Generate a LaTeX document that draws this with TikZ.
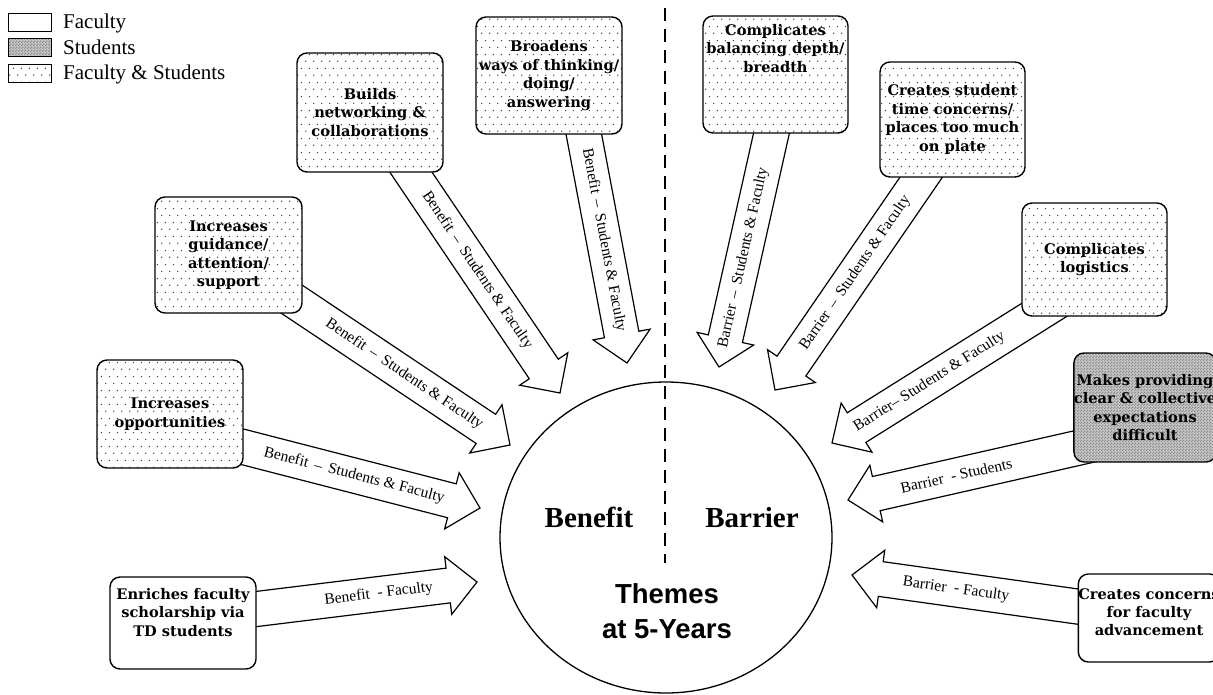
\documentclass[tikz,border=0pt]{standalone}
\usepackage{fontspec}
\setmainfont{Liberation Serif}
\newfontfamily\themefont{Liberation Sans}
\newfontfamily\boxserif{DejaVu Serif}
\usetikzlibrary{calc,patterns,shapes.geometric}

\pgfdeclarepatternformonly{fsdots}{\pgfqpoint{0pt}{0pt}}{\pgfqpoint{8pt}{14pt}}{\pgfqpoint{8pt}{14pt}}{%
  \pgfpathcircle{\pgfqpoint{2pt}{3pt}}{0.75pt}%
  \pgfpathcircle{\pgfqpoint{6pt}{10pt}}{0.75pt}%
  \pgfusepath{fill}}
\pgfdeclarepatternformonly{stuchk}{\pgfqpoint{0pt}{0pt}}{\pgfqpoint{3pt}{3pt}}{\pgfqpoint{3pt}{3pt}}{%
  \pgfpathrectangle{\pgfqpoint{0pt}{0pt}}{\pgfqpoint{1.5pt}{1.5pt}}%
  \pgfpathrectangle{\pgfqpoint{1.5pt}{1.5pt}}{\pgfqpoint{1.5pt}{1.5pt}}%
  \pgfusepath{fill}}

\newcommand\boxfont{\boxserif\bfseries\fontsize{14.6}{18.4}\selectfont}
\newcommand\arrowfont{\fontsize{15.5}{15.5}\selectfont}
\newcommand\legfont{\fontsize{21}{21}\selectfont}

% #1 tail coordinate, #2 tip coordinate, #3 label, #4 label distance back from head base, #5 extra text rotation
\newcommand\blockarrow[5]{%
  \coordinate (#1-hb) at ($(#2)!29pt!(#1)$);
  \draw[arrowline] ($(#1)!17.5pt!90:(#2)$) -- ($(#1-hb)!17.5pt!90:(#2)$) -- ($(#1-hb)!29pt!90:(#2)$) -- (#2)
     -- ($(#1-hb)!29pt!-90:(#2)$) -- ($(#1-hb)!17.5pt!-90:(#2)$) -- ($(#1)!17.5pt!-90:(#2)$) -- cycle;
  \path let \p1=($(#2)-(#1)$), \n1={atan2(\y1,\x1)+#5} in
     node[arrowlabel, rotate=\n1] (#1-lab) at ($(#1-hb)!#4pt!(#1)$) {#3};
}

\tikzset{
  themebox/.style={draw, line width=1.4pt, rounded corners=10pt, align=center, font=\boxfont, inner sep=0pt},
  fsbox/.style={themebox, preaction={fill=white}, pattern=fsdots, pattern color=black!85},
  facbox/.style={themebox, fill=white},
  stubox/.style={themebox, preaction={fill=black!22}, pattern=stuchk, pattern color=black!45},
  arrowline/.style={line width=1.2pt, fill=white, line join=miter},
  arrowlabel/.style={font=\arrowfont, inner sep=0pt},
  legbox/.style={draw, line width=1pt, minimum width=43pt, minimum height=18pt, inner sep=0pt},
  legtext/.style={font=\legfont, inner sep=0pt, anchor=base west},
  dashline/.style={line width=2.4pt, dash pattern=on 13pt off 8pt},
  bigserif/.style={font=\bfseries\fontsize{29}{29}\selectfont, inner sep=0pt, anchor=base},
}

\begin{document}
\begin{tikzpicture}[x=1pt,y=-1pt]
\useasboundingbox (0,0) rectangle (1213,694);

% legend
\node[legbox, fill=white] (lg1) at (29.5,22) {};
\node[legtext] (lg1t) at (63,28.5) {Faculty};
\node[legbox, preaction={fill=black!22}, pattern=stuchk, pattern color=black!45] (lg2) at (29.5,47.5) {};
\node[legtext] (lg2t) at (63,54) {Students};
\node[legbox, preaction={fill=white}, pattern=fsdots, pattern color=black!85] (lg3) at (29.5,73) {};
\node[legtext] (lg3t) at (63,79.5) {Faculty \& Students};

% arrow end points
\coordinate (a1t) at (580,114);  \coordinate (a1h) at (627,363);
\coordinate (a2t) at (400,156);  \coordinate (a2h) at (560,393);
\coordinate (a3t) at (278,290);  \coordinate (a3h) at (510,445);
\coordinate (a4t) at (220,441);  \coordinate (a4h) at (480,508);
\coordinate (a5t) at (236,611.5);\coordinate (a5h) at (477,582);
\coordinate (r1t) at (776,113);  \coordinate (r1h) at (719,367);
\coordinate (r2t) at (933,160);  \coordinate (r2h) at (775,390);
\coordinate (r3t) at (1060,300); \coordinate (r3h) at (832,443);
\coordinate (r4t) at (1095,444); \coordinate (r4h) at (848,500);
\coordinate (r5t) at (1095,609); \coordinate (r5h) at (852,575);

\blockarrow{a1t}{a1h}{Benefit \,--\, Students \& Faculty}{96}{0}
\blockarrow{a2t}{a2h}{Benefit \,--\, Students \& Faculty}{119}{0}
\blockarrow{a3t}{a3h}{Benefit \,--\, Students \& Faculty}{98}{0}
\blockarrow{a4t}{a4h}{Benefit \,--\, Students \& Faculty}{101}{0}
\blockarrow{a5t}{a5h}{Benefit\ \ - Faculty}{70}{0}
\blockarrow{r1t}{r1h}{Barrier \,--\, Students \& Faculty}{83}{180}
\blockarrow{r2t}{r2h}{Barrier \,--\, Students \& Faculty}{113}{180}
\blockarrow{r3t}{r3h}{Barrier-- Students \& Faculty}{86}{180}
\blockarrow{r4t}{r4h}{Barrier\ \ - Students}{82}{180}
\blockarrow{r5t}{r5h}{Barrier\ \ - Faculty}{76}{180}

% boxes
\node[fsbox, minimum width=146pt, minimum height=117pt] (b1) at (549,75.5) {Broadens\\ways of thinking/\\doing/\\answering};
\node[fsbox, minimum width=146pt, minimum height=119pt] (b2) at (370,112.5) {Builds\\networking \&\\collaborations};
\node[fsbox, minimum width=147pt, minimum height=116pt] (b3) at (228.5,255) {Increases\\guidance/\\attention/\\support};
\node[fsbox, minimum width=146pt, minimum height=108pt] (b4) at (170,414) {Increases\\opportunities};
\node[facbox, minimum width=146pt, minimum height=92pt] (b5) at (183,623) {Enriches faculty\\scholarship via\\TD students\\[3.5pt]\mbox{}};
\node[fsbox, minimum width=145pt, minimum height=117pt] (c1) at (775.5,74.5) {Complicates\\balancing depth/\\breadth\\[34.5pt]\mbox{}};
\node[fsbox, minimum width=145pt, minimum height=115pt] (c2) at (952.5,119.5) {Creates student\\time concerns/\\places too much\\on plate};
\node[fsbox, minimum width=145pt, minimum height=113pt] (c3) at (1094.5,259.5) {Complicates\\logistics};
\node[stubox, minimum width=134pt, minimum height=109pt] (c4) at (1145,407.5) {Makes providing\\clear \& collective\\expectations\\difficult};
\node[facbox, minimum width=140pt, minimum height=88pt] (c5) at (1149,618) {Creates concerns\\for faculty\\advancement\\[-6.5pt]\mbox{}};

% central circle
\node[draw, ellipse, line width=1.3pt, minimum width=332pt, minimum height=311pt, inner sep=0pt] (circ) at (666,537.5) {};
\coordinate (dtop) at (665,8);
\coordinate (dbot) at (665,563);
\draw[dashline] (dtop) -- (dbot);
\node[bigserif] (ben) at (589,527) {Benefit};
\node[bigserif] (bar) at (752,527) {Barrier};
\node[font=\themefont\bfseries\fontsize{27.5}{35}\selectfont, align=center, inner sep=0pt] (themes) at (667,611.5) {Themes\\at 5-Years};
\end{tikzpicture}
\end{document}
